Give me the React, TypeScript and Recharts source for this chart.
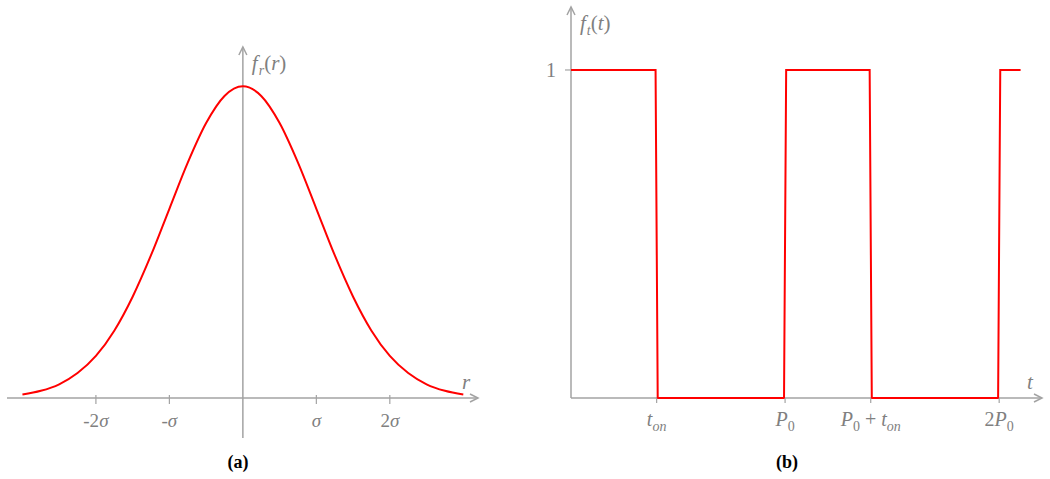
import React from "react";
import { LineChart, Line, XAxis, YAxis, ReferenceLine } from "recharts";

// (a) gaussian curve, r in units of sigma
const rValues = [-3, -2.75, -2.5, -2.25, -2, -1.75, -1.5, -1.25, -1, -0.75, -0.5, -0.25, 0, 0.25, 0.5, 0.75, 1, 1.25, 1.5, 1.75, 2, 2.25, 2.5, 2.75, 3];
const frValues = [0.011, 0.023, 0.044, 0.08, 0.135, 0.216, 0.325, 0.458, 0.607, 0.755, 0.882, 0.969, 1, 0.969, 0.882, 0.755, 0.607, 0.458, 0.325, 0.216, 0.135, 0.08, 0.044, 0.023, 0.011];
const rTicks = [-2, -1, 1, 2];

// (b) pulse train, t in units of P0
const tValues = [0, 0.395, 0.405, 0.995, 1.005, 1.395, 1.405, 1.995, 2.005, 2.1];
const ftValues = [1, 1, 0, 0, 1, 1, 0, 0, 1, 1];
const tTicks = [0.4, 1, 1.4, 2];
const ftTicks = [1];

const gaussData = rValues.map((r, i) => ({ r, f: frValues[i] }));
const pulseData = tValues.map((t, i) => ({ t, f: ftValues[i] }));

const AXIS = "#a3a3a3";
const TEXT = "#808080";
const RED = "#ff0000";
const FONT = "Liberation Serif, DejaVu Serif, serif";

const it = { fontStyle: "italic" as const };

const rLabel = (v: number) => {
  if (v === -2) return (<><tspan>-2</tspan><tspan {...it}>σ</tspan></>);
  if (v === -1) return (<><tspan>-</tspan><tspan {...it}>σ</tspan></>);
  if (v === 1) return <tspan {...it}>σ</tspan>;
  return (<><tspan>2</tspan><tspan {...it}>σ</tspan></>);
};

const tLabel = (v: number) => {
  const ton = (
    <>
      <tspan {...it}>t</tspan>
      <tspan {...it} fontSize={14} dy={5}>on</tspan>
    </>
  );
  if (v === 0.4) return ton;
  if (v === 1)
    return (<><tspan {...it}>P</tspan><tspan fontSize={14} dy={5}>0</tspan></>);
  if (v === 1.4)
    return (
      <>
        <tspan {...it}>P</tspan>
        <tspan fontSize={14} dy={5}>0</tspan>
        <tspan dy={-5}> + </tspan>
        {ton}
      </>
    );
  return (<><tspan>2</tspan><tspan {...it}>P</tspan><tspan fontSize={14} dy={5}>0</tspan></>);
};

const RTick = (props: any) => {
  const { x, y, payload } = props;
  return (
    <g>
      <line x1={x} y1={y - 3} x2={x} y2={y + 6} stroke={AXIS} strokeWidth={1.2} />
      <text x={x} y={y + 29} textAnchor="middle" fill={TEXT} fontSize={19} style={{ fontFamily: FONT }}>
        {rLabel(payload.value)}
      </text>
    </g>
  );
};

const TTick = (props: any) => {
  const { x, y, payload } = props;
  return (
    <g>
      <line x1={x} y1={y} x2={x} y2={y + 5} stroke={AXIS} strokeWidth={1.2} />
      <text x={x} y={y + 28} textAnchor="middle" fill={TEXT} fontSize={20} style={{ fontFamily: FONT }}>
        {tLabel(payload.value)}
      </text>
    </g>
  );
};

const FTick = (props: any) => {
  const { x, y, payload } = props;
  return (
    <g>
      <line x1={x - 6} y1={y} x2={x} y2={y} stroke={AXIS} strokeWidth={1.2} />
      <text x={x - 15} y={y + 7} textAnchor="end" fill={TEXT} fontSize={20} style={{ fontFamily: FONT }}>
        {payload.value}
      </text>
    </g>
  );
};

// axis line with an open arrow head at its second end point, plus its name
const arrowAxis = (vertical: boolean, name: React.ReactNode) => (props: any) => {
  const { x1, y1, x2, y2 } = props;
  const head = vertical
    ? `M${x2 - 4},${y2 + 8} L${x2},${y2} L${x2 + 4},${y2 + 8}`
    : `M${x2 - 8},${y2 - 4} L${x2},${y2} L${x2 - 8},${y2 + 4}`;
  return (
    <g>
      <line x1={x1} y1={y1} x2={x2} y2={y2} stroke={AXIS} strokeWidth={1.5} />
      <path d={head} fill="none" stroke={AXIS} strokeWidth={1.5} />
      <text
        x={vertical ? x2 + 9 : x2 - 12}
        y={vertical ? y2 + 23 : y2 - 9}
        textAnchor={vertical ? "start" : "middle"}
        fill={TEXT}
        fontSize={21}
        style={{ fontFamily: FONT }}
      >
        {name}
      </text>
    </g>
  );
};

const fName = (v: string) => (
  <>
    <tspan {...it}>f</tspan>
    <tspan {...it} fontSize={14} dy={5} dx={1}>{v}</tspan>
    <tspan dy={-5}>(</tspan>
    <tspan {...it}>{v}</tspan>
    <tspan>)</tspan>
  </>
);

const caption: React.CSSProperties = {
  position: "absolute",
  top: 452,
  width: 60,
  textAlign: "center",
  fontFamily: FONT,
  fontWeight: "bold",
  fontSize: 18,
  color: "#000",
};

export default function App() {
  return (
    <div style={{ position: "absolute", left: 0, top: 0, width: 1050, height: 479, background: "#fff" }}>
      <div style={{ position: "absolute", left: 0, top: 0 }}>
        <LineChart width={520} height={479} data={gaussData} margin={{ top: 47, right: 42, left: 7, bottom: 41 }}>
          <XAxis
            dataKey="r"
            type="number"
            domain={[-3.21, 3.2]}
            ticks={rTicks}
            axisLine={false}
            tickLine={false}
            tickSize={0}
            tickMargin={0}
            height={40}
            tick={<RTick />}
            interval={0}
          />
          <YAxis hide domain={[0, 1.126]} type="number" />
          <ReferenceLine
            segment={[{ x: -3.21, y: 0 }, { x: 3.2, y: 0 }]}
            ifOverflow="visible"
            shape={arrowAxis(false, <tspan {...it}>r</tspan>)}
          />
          <ReferenceLine
            segment={[{ x: 0, y: -0.128 }, { x: 0, y: 1.126 }]}
            ifOverflow="visible"
            shape={arrowAxis(true, fName("r"))}
          />
          <Line
            dataKey="f"
            type="monotone"
            stroke={RED}
            strokeWidth={2}
            dot={false}
            activeDot={false}
            isAnimationActive={false}
          />
        </LineChart>
      </div>
      <div style={{ position: "absolute", left: 540, top: 0 }}>
        <LineChart width={510} height={479} data={pulseData} margin={{ top: 7, right: 8, left: 0, bottom: 41 }}>
          <XAxis
            dataKey="t"
            type="number"
            domain={[0, 2.2]}
            ticks={tTicks}
            axisLine={false}
            tickLine={false}
            tickSize={0}
            tickMargin={0}
            height={40}
            tick={<TTick />}
            interval={0}
          />
          <YAxis
            type="number"
            domain={[0, 1.192]}
            ticks={ftTicks}
            width={31}
            axisLine={false}
            tickLine={false}
            tickSize={0}
            tickMargin={0}
            tick={<FTick />}
            interval={0}
          />
          <ReferenceLine
            segment={[{ x: 0, y: 0 }, { x: 2.2, y: 0 }]}
            ifOverflow="visible"
            shape={arrowAxis(false, <tspan {...it}>t</tspan>)}
          />
          <ReferenceLine
            segment={[{ x: 0, y: 0 }, { x: 0, y: 1.192 }]}
            ifOverflow="visible"
            shape={arrowAxis(true, fName("t"))}
          />
          <Line
            dataKey="f"
            type="linear"
            stroke={RED}
            strokeWidth={2}
            dot={false}
            activeDot={false}
            isAnimationActive={false}
          />
        </LineChart>
      </div>
      <div style={{ ...caption, left: 208 }}>(a)</div>
      <div style={{ ...caption, left: 757 }}>(b)</div>
    </div>
  );
}
